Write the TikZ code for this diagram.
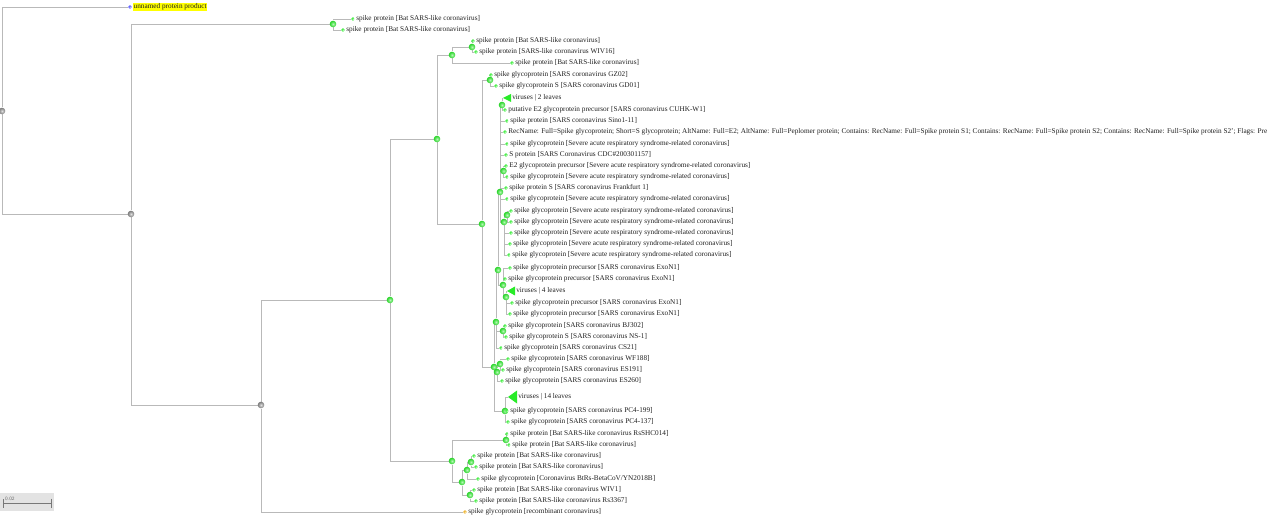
\documentclass[tikz,border=0pt]{standalone}
\usepackage{fontspec}
\setmainfont{Liberation Serif}
\usetikzlibrary{arrows.meta,positioning,backgrounds}
\definecolor{trGreen}{RGB}{40,235,40}
\definecolor{trGray}{RGB}{150,150,150}
\definecolor{trLine}{RGB}{185,185,185}
\definecolor{trBlue}{RGB}{70,70,255}
\definecolor{trOrange}{RGB}{235,170,20}
\definecolor{trYellow}{RGB}{255,255,0}
\definecolor{trInk}{RGB}{30,30,30}

\begin{document}
\begin{tikzpicture}[x=1pt,y=-1pt,
  br/.style={draw=trLine,line width=0.9pt},
  inner/.style={circle,inner sep=0pt,minimum size=6.6pt,inner color=trGreen!35!white,
                outer color=trGreen!90!black,draw=none},
  grey/.style={inner,inner color=trGray!30!white,outer color=trGray!80!black},
  leaf/.style={circle,inner sep=0pt,minimum size=3.8pt,inner color=trGreen!40!white,
               outer color=trGreen,draw=none},
  clade/.style={fill=trGreen,draw=none},
  lbl/.style={inner sep=0.6pt,text=trInk,font=\fontsize{7.25}{8}\selectfont},
  sbar/.style={draw=trGray!80!black,line width=0.8pt,{Bar[width=9pt]}-{Bar[width=9pt]}}]

\clip (0,0) rectangle (1267,521);

% ===== Inner nodes =====
\node[grey]  (root) at (2,111) {};
\node[grey]  (A)  at (131,214) {};
\node[inner] (B)  at (333,24) {};
\node[grey]  (C)  at (261,405) {};
\node[inner] (D)  at (390,300) {};
\node[inner] (E)  at (437,139) {};
\node[inner] (G)  at (452,55) {};
\node[inner] (G2) at (472,47) {};
\node[inner] (H)  at (482,224) {};
\node[inner] (I)  at (490,80) {};
\node[inner] (J)  at (494,367) {};
\node[inner] (Q)  at (496,322) {};
\node[inner] (K)  at (498,270) {};
\node[inner] (U)  at (500,192) {};
\node[inner] (W)  at (502,105) {};
\node[inner] (V)  at (503.5,171) {};
\node[inner] (Y)  at (504,222) {};
\node[inner] (Y1) at (507,215) {};
\node[inner] (X)  at (503,285) {};
\node[inner] (X2) at (506,297) {};
\node[inner] (R)  at (503,331) {};
\node[inner] (S)  at (497,372) {};
\node[inner] (S2) at (500,364) {};
\node[inner] (L)  at (505,411) {};
\node[inner] (F)  at (452,461) {};
\node[inner] (F1) at (506,440) {};
\node[inner] (F2) at (462,482) {};
\node[inner] (F3) at (467,470) {};
\node[inner] (F5) at (471,462) {};
\node[inner] (F4) at (470,495) {};

% ===== Outgroups =====
\node[leaf,inner color=trBlue!40!white,outer color=trBlue] (l1) at (130,7) {};
\node[lbl,fill=trYellow,right=0.8pt of l1] (t1) {unnamed protein product};
\node[leaf] (l2) at (353,19) {};
\node[lbl,right=0.5pt of l2] (t2) {spike protein [Bat SARS-like coronavirus]};
\node[leaf] (l3) at (343,30) {};
\node[lbl,right=0.5pt of l3] (t3) {spike protein [Bat SARS-like coronavirus]};

% ===== SARS-like bat clade =====
\node[leaf] (l4) at (473,41) {};
\node[lbl,right=0.5pt of l4] (t4) {spike protein [Bat SARS-like coronavirus]};
\node[leaf] (l5) at (476,52) {};
\node[lbl,right=0.5pt of l5] (t5) {spike protein [SARS-like coronavirus WIV16]};
\node[leaf] (l6) at (512,63) {};
\node[lbl,right=0.5pt of l6] (t6) {spike protein [Bat SARS-like coronavirus]};

% ===== SARS coronavirus clade =====
\node[leaf] (l7) at (491,75) {};
\node[lbl,right=0.5pt of l7] (t7) {spike glycoprotein [SARS coronavirus GZ02]};
\node[leaf] (l8) at (496,86) {};
\node[lbl,right=0.5pt of l8] (t8) {spike glycoprotein S [SARS coronavirus GD01]};
\coordinate (v2) at (503,98);
\fill[clade] (v2) -- ++(8,-4) -- ++(0,8) -- cycle;
\node[lbl,anchor=west] (tv2) at (511.5,98) {viruses | 2 leaves};
\node[leaf] (l10) at (505,110) {};
\node[lbl,right=0.5pt of l10] (t10) {putative E2 glycoprotein precursor [SARS coronavirus CUHK-W1]};
\node[leaf] (l11) at (507,121) {};
\node[lbl,right=0.5pt of l11] (t11) {spike protein [SARS coronavirus Sino1-11]};
\node[leaf] (l12) at (505,132) {};
\node[lbl,right=0.5pt of l12] (t12) {RecName: Full=Spike glycoprotein; Short=S glycoprotein; AltName: Full=E2; AltName: Full=Peplomer protein; Contains: RecName: Full=Spike protein S1; Contains: RecName: Full=Spike protein S2; Contains: RecName: Full=Spike protein S2'; Flags: Precursor};
\node[leaf] (l13) at (507,144) {};
\node[lbl,right=0.5pt of l13] (t13) {spike glycoprotein [Severe acute respiratory syndrome-related coronavirus]};
\node[leaf] (l14) at (506,155) {};
\node[lbl,right=0.5pt of l14] (t14) {S protein [SARS Coronavirus CDC\#200301157]};
\node[leaf] (l15) at (506,166) {};
\node[lbl,right=0.5pt of l15] (t15) {E2 glycoprotein precursor [Severe acute respiratory syndrome-related coronavirus]};
\node[leaf] (l16) at (507,177) {};
\node[lbl,right=0.5pt of l16] (t16) {spike glycoprotein [Severe acute respiratory syndrome-related coronavirus]};
\node[leaf] (l17) at (506,188) {};
\node[lbl,right=0.5pt of l17] (t17) {spike protein S [SARS coronavirus Frankfurt 1]};
\node[leaf] (l18) at (507,199) {};
\node[lbl,right=0.5pt of l18] (t18) {spike glycoprotein [Severe acute respiratory syndrome-related coronavirus]};
\node[leaf] (l19) at (511,211) {};
\node[lbl,right=0.5pt of l19] (t19) {spike glycoprotein [Severe acute respiratory syndrome-related coronavirus]};
\node[leaf] (l20) at (511,222) {};
\node[lbl,right=0.5pt of l20] (t20) {spike glycoprotein [Severe acute respiratory syndrome-related coronavirus]};
\node[leaf] (l21) at (511,233) {};
\node[lbl,right=0.5pt of l21] (t21) {spike glycoprotein [Severe acute respiratory syndrome-related coronavirus]};
\node[leaf] (l22) at (510,244) {};
\node[lbl,right=0.5pt of l22] (t22) {spike glycoprotein [Severe acute respiratory syndrome-related coronavirus]};
\node[leaf] (l23) at (509,255) {};
\node[lbl,right=0.5pt of l23] (t23) {spike glycoprotein [Severe acute respiratory syndrome-related coronavirus]};
\node[leaf] (l24) at (510,268) {};
\node[lbl,right=0.5pt of l24] (t24) {spike glycoprotein precursor [SARS coronavirus ExoN1]};
\node[leaf] (l25) at (505,279) {};
\node[lbl,right=0.5pt of l25] (t25) {spike glycoprotein precursor [SARS coronavirus ExoN1]};
\coordinate (v4) at (507,291);
\fill[clade] (v4) -- ++(8,-4.5) -- ++(0,9) -- cycle;
\node[lbl,anchor=west] (tv4) at (515.5,291) {viruses | 4 leaves};
\node[leaf] (l27) at (512,303) {};
\node[lbl,right=0.5pt of l27] (t27) {spike glycoprotein precursor [SARS coronavirus ExoN1]};
\node[leaf] (l28) at (510,314) {};
\node[lbl,right=0.5pt of l28] (t28) {spike glycoprotein precursor [SARS coronavirus ExoN1]};
\node[leaf] (l29) at (505,326) {};
\node[lbl,right=0.5pt of l29] (t29) {spike glycoprotein [SARS coronavirus BJ302]};
\node[leaf] (l30) at (506,337) {};
\node[lbl,right=0.5pt of l30] (t30) {spike glycoprotein S [SARS coronavirus NS-1]};
\node[leaf] (l31) at (501,348) {};
\node[lbl,right=0.5pt of l31] (t31) {spike glycoprotein [SARS coronavirus CS21]};
\node[leaf] (l32) at (508,359) {};
\node[lbl,right=0.5pt of l32] (t32) {spike glycoprotein [SARS coronavirus WF188]};
\node[leaf] (l33) at (503,370) {};
\node[lbl,right=0.5pt of l33] (t33) {spike glycoprotein [SARS coronavirus ES191]};
\node[leaf] (l34) at (502,381) {};
\node[lbl,right=0.5pt of l34] (t34) {spike glycoprotein [SARS coronavirus ES260]};
\coordinate (v14) at (508,397);
\fill[clade] (v14) -- ++(9,-6.5) -- ++(0,13) -- cycle;
\node[lbl,anchor=west] (tv14) at (517.5,397) {viruses | 14 leaves};
\node[leaf] (l36) at (507,411) {};
\node[lbl,right=0.5pt of l36] (t36) {spike glycoprotein [SARS coronavirus PC4-199]};
\node[leaf] (l37) at (508,422) {};
\node[lbl,right=0.5pt of l37] (t37) {spike glycoprotein [SARS coronavirus PC4-137]};

% ===== Bat SARS-like clade (lower) =====
\node[leaf] (l38) at (507,434) {};
\node[lbl,right=0.5pt of l38] (t38) {spike protein [Bat SARS-like coronavirus RsSHC014]};
\node[leaf] (l39) at (509,445) {};
\node[lbl,right=0.5pt of l39] (t39) {spike protein [Bat SARS-like coronavirus]};
\node[leaf] (l40) at (474,456) {};
\node[lbl,right=0.5pt of l40] (t40) {spike protein [Bat SARS-like coronavirus]};
\node[leaf] (l41) at (476,467) {};
\node[lbl,right=0.5pt of l41] (t41) {spike protein [Bat SARS-like coronavirus]};
\node[leaf] (l42) at (478,479) {};
\node[lbl,right=0.5pt of l42] (t42) {spike glycoprotein [Coronavirus BtRs-BetaCoV/YN2018B]};
\node[leaf] (l43) at (474,490) {};
\node[lbl,right=0.5pt of l43] (t43) {spike protein [Bat SARS-like coronavirus WIV1]};
\node[leaf] (l44) at (476,501) {};
\node[lbl,right=0.5pt of l44] (t44) {spike protein [Bat SARS-like coronavirus Rs3367]};
\node[leaf,inner color=trOrange!40!white,outer color=trOrange] (l45) at (465,512) {};
\node[lbl,right=0.5pt of l45] (t45) {spike glycoprotein [recombinant coronavirus]};

% ===== Branches =====
\begin{scope}[on background layer]
\draw[br] (root) |- (l1) (root) |- (A);
\draw[br] (A) |- (B) (A) |- (C);
\draw[br] (B) |- (l2) (B) |- (l3);
\draw[br] (C) |- (D) (C) |- (l45);
\draw[br] (D) |- (E) (D) |- (F);
\draw[br] (E) |- (G) (E) |- (H);
\draw[br] (G) |- (G2) (G) |- (l6);
\draw[br] (G2) |- (l4) (G2) |- (l5);
\draw[br] (H) |- (I) (H) |- (J);
\draw[br] (I) |- (l7) (I) |- (l8);
\draw[br] (J) |- (Q) (J) |- (S) (J) |- (L);
\draw[br] (Q) |- (K) (Q) |- (R) (Q) |- (l31);
\draw[br] (R) |- (l29) (R) |- (l30);
\draw[br] (S) |- (S2) (S) |- (l34);
\draw[br] (S2) |- (l32) (S2) |- (l33);
\draw[br] (L) |- (v14) (L) |- (l36) (L) |- (l37);
\draw[br] (K) |- (U) (K) |- (X);
\draw[br] (X) |- (l24) (X) |- (l25) (X) |- (X2);
\draw[br] (X2) |- (v4) (X2) |- (l27) (X2) |- (l28);
\draw[br] (U) |- (W) (U) |- (l11) (U) |- (l12) (U) |- (l13) (U) |- (l14)
          (U) |- (V) (U) |- (l17) (U) |- (l18) (U) |- (Y);
\draw[br] (W) |- (v2) (W) |- (l10);
\draw[br] (V) |- (l15) (V) |- (l16);
\draw[br] (Y) |- (Y1) (Y) |- (l21) (Y) |- (l22) (Y) |- (l23);
\draw[br] (Y1) |- (l19) (Y1) |- (l20);
\draw[br] (F) |- (F1) (F) |- (F2);
\draw[br] (F1) |- (l38) (F1) |- (l39);
\draw[br] (F2) |- (F3) (F2) |- (F4);
\draw[br] (F3) |- (F5) (F3) |- (l42);
\draw[br] (F5) |- (l40) (F5) |- (l41);
\draw[br] (F4) |- (l43) (F4) |- (l44);
\end{scope}

% ===== Scale bar =====
\fill[gray!22] (0,493) rectangle (54,511);
\coordinate (sbL) at (3,503);
\coordinate (sbR) at (52,503);
\draw[sbar] (sbL) -- (sbR);
\node[inner sep=0pt,anchor=south west,text=trGray!70!black,font=\sffamily\fontsize{5}{5}\selectfont] (sbt) at (5,501) {0.02};
\end{tikzpicture}
\end{document}
